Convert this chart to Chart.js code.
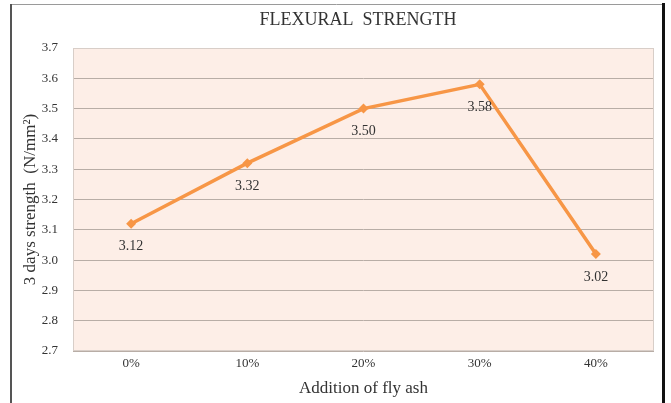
<!DOCTYPE html>
<html>
<head>
<meta charset="utf-8">
<script src="https://cdn.jsdelivr.net/npm/chart.js@4/dist/chart.umd.min.js"></script>
<style>
  html, body { margin: 0; padding: 0; background: #ffffff; }
  #wrap { position: relative; width: 671px; height: 403px; }
</style>
</head>
<body>
<div id="wrap"><canvas id="c" width="671" height="403"></canvas></div>
<script>
// Flexural strength at 3 days against fly ash content
const categories = ['0%', '10%', '20%', '30%', '40%'];
const strength = [3.12, 3.32, 3.50, 3.58, 3.02];
const chartTitle = 'FLEXURAL  STRENGTH';
const xTitle = 'Addition of fly ash';
const yTitle = '3 days strength  (N/mm\u00B2)';
const yMin = 2.7, yMax = 3.7, yStep = 0.1;

const SERIF = '"Liberation Serif", "Times New Roman", serif';

// Frame, plot background, title and value labels
const decor = {
  id: 'decor',
  beforeDraw(chart) {
    const { ctx, chartArea: a } = chart;
    ctx.save();
    ctx.fillStyle = '#fdeee7';
    ctx.fillRect(a.left, a.top, a.right - a.left, a.bottom - a.top);
    ctx.restore();
  },
  afterDraw(chart) {
    const { ctx, chartArea: a } = chart;
    ctx.save();
    // plot area outline
    ctx.strokeStyle = '#d8cec8';
    ctx.lineWidth = 1;
    ctx.strokeRect(a.left + 0.5, a.top + 0.5, a.right - a.left - 1, a.bottom - a.top - 1);
    // outer frame
    ctx.strokeStyle = '#9a9a9a';
    ctx.beginPath(); ctx.moveTo(10, 4.5); ctx.lineTo(663, 4.5); ctx.stroke();
    ctx.strokeStyle = '#555555';
    ctx.lineWidth = 2;
    ctx.beginPath(); ctx.moveTo(11, 4); ctx.lineTo(11, 403); ctx.stroke();
    ctx.strokeStyle = '#111111';
    ctx.lineWidth = 3;
    ctx.beginPath(); ctx.moveTo(663.5, 3); ctx.lineTo(663.5, 403); ctx.stroke();
    // title
    ctx.fillStyle = '#333333';
    ctx.font = '18px ' + SERIF;
    ctx.textAlign = 'center';
    ctx.textBaseline = 'middle';
    ctx.fillText(chartTitle, 358, 20);
    // value labels under each point
    const meta = chart.getDatasetMeta(0);
    ctx.font = '14px ' + SERIF;
    ctx.fillStyle = '#333333';
    meta.data.forEach((pt, i) => {
      ctx.fillText(strength[i].toFixed(2), pt.x, pt.y + 23);
    });
    ctx.restore();
  }
};

new Chart(document.getElementById('c'), {
  type: 'line',
  data: {
    labels: categories,
    datasets: [{
      data: strength,
      borderColor: '#f79646',
      backgroundColor: '#f79646',
      borderWidth: 3.5,
      pointStyle: 'rectRot',
      pointRadius: 5,
      pointBorderWidth: 0,
      tension: 0
    }]
  },
  options: {
    responsive: false,
    animation: false,
    layout: { padding: { left: 12, right: 17, top: 48, bottom: 0 } },
    plugins: { legend: { display: false }, tooltip: { enabled: false } },
    scales: {
      x: {
        offset: true,
        grid: { display: false, drawTicks: false },
        border: { display: false },
        ticks: { color: '#333333', font: { family: SERIF, size: 13 }, padding: 5 },
        title: { display: true, text: xTitle, color: '#333333', font: { family: SERIF, size: 17 }, padding: { top: 0, bottom: 4 } },
        afterFit(s) { s.height = 52; }
      },
      y: {
        min: yMin, max: yMax,
        grid: { color: '#b8ada6', lineWidth: 1, drawTicks: false },
        border: { display: false },
        ticks: {
          stepSize: yStep,
          color: '#333333',
          font: { family: SERIF, size: 13 },
          padding: 15,
          callback: v => Number(v).toFixed(1)
        },
        title: { display: true, text: yTitle, color: '#333333', font: { family: SERIF, size: 17 }, padding: { top: 8, bottom: 0 } },
        afterFit(s) { s.width = 61; }
      }
    }
  },
  plugins: [decor]
});
</script>
</body>
</html>
